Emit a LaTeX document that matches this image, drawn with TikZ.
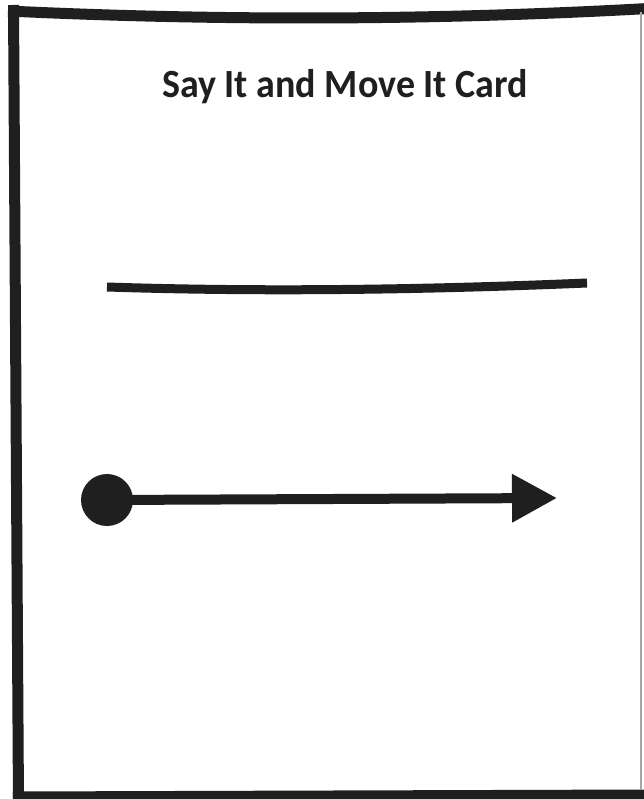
\documentclass[tikz,border=0pt]{standalone}
\usepackage{fontspec}
\setmainfont{Carlito}
\usetikzlibrary{arrows.meta}
\definecolor{ink}{HTML}{1F1F1F}
\begin{document}
\begin{tikzpicture}[x=1pt,y=-1pt,
  edge/.style={draw=ink, line width=11pt},
  rule/.style={draw=ink, line width=9pt},
  titletext/.style={font=\bfseries\fontsize{40}{48}\selectfont, text=ink, inner sep=0pt, anchor=base}]
\useasboundingbox (0,0) rectangle (643,799);
\fill[white] (0,0) rectangle (643,799);
% card border
\coordinate (tl) at (13.5,5);
\coordinate (bl) at (18.5,804);
\coordinate (tL) at (8,11);
\coordinate (tR) at (648,8.5);
\coordinate (bL) at (13,797);
\coordinate (bR) at (648,795);
\draw[edge] (tL) .. controls (210,20.7) and (430,20.7) .. (tR);
\draw[edge] (tl) -- (bl);
\draw[edge] (bL) -- (bR);
\coordinate (rt) at (641,12);
\coordinate (rb) at (641,790);
\draw[gray!70, line width=1.5pt] (rt) -- (rb);
% title
\node[titletext] (title) at (345,98) {\scalebox{0.95}[1]{Say It and Move It Card}};
% line to write on
\coordinate (la) at (107,287);
\coordinate (lb) at (587,283);
\draw[rule] (la) .. controls (260,292) and (420,290) .. (lb);
% arrow
\node[circle, fill=ink, inner sep=0pt, minimum size=52pt] (dot) at (107,500) {};
\coordinate (tip) at (557,498);
\draw[draw=ink, line width=10pt, -{Triangle[length=45pt,width=46pt]}, fill=ink] (dot.center) -- (tip);
\end{tikzpicture}
\end{document}
